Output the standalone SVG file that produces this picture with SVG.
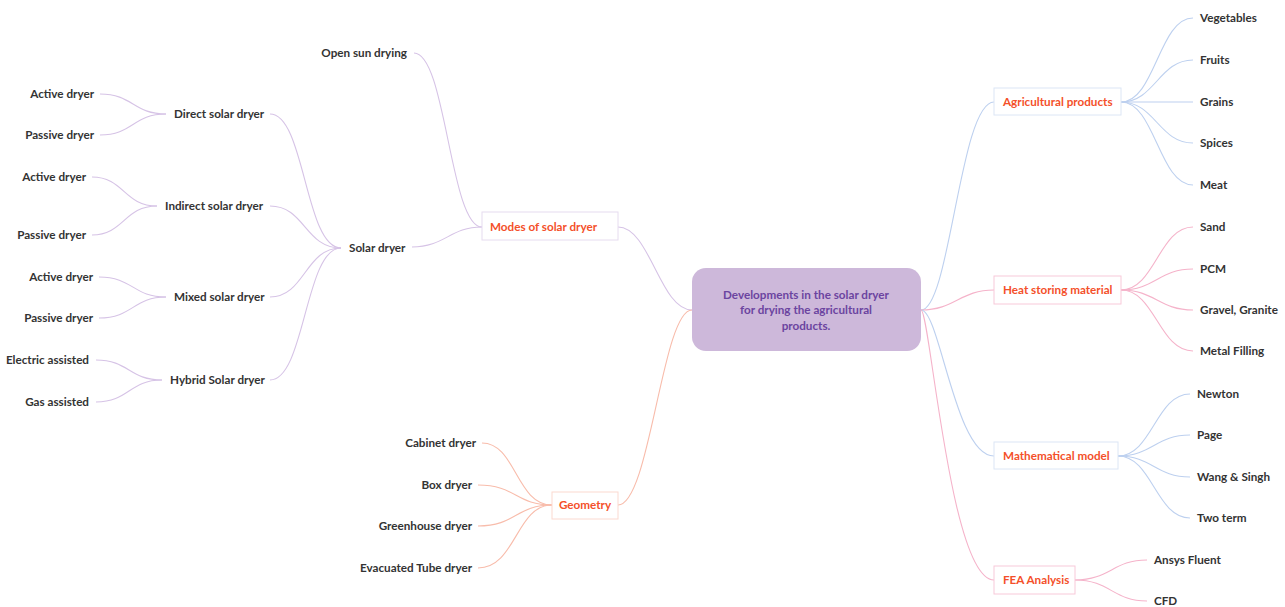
<svg xmlns="http://www.w3.org/2000/svg" width="1285" height="607" viewBox="0 0 1285 607">
<style>
text{font-family:Lato,"Open Sans","Liberation Sans",sans-serif;font-weight:700;font-size:11.7px}
.leaf{fill:#333333}
.red{fill:#f4502a}
.title{fill:#6b44a0;text-anchor:middle}
.e{text-anchor:end}
.c{stroke-width:1.1;fill:none}
.pu{stroke:#d6c3e6}
.sa{stroke:#f8bcab}
.bl{stroke:#bdd0ef}
.pk{stroke:#f5b3ca}
.box{fill:#ffffff;stroke-width:1}
</style>
<rect width="1285" height="607" fill="#ffffff"/>
<g id="connectors">
<path class="c pu" d="M692,310 C660,310 650,227 618,227"/>
<path class="c sa" d="M692,310 C662,310 650,505 618,505"/>
<path class="c bl" d="M921,310 C950,310 960,102 994,102"/>
<path class="c pk" d="M921,310 C955,310 960,290 994,290"/>
<path class="c bl" d="M921,310 C940,310 955,456 994,456"/>
<path class="c pk" d="M921,310 C930,310 950,580 994,580"/>
<path class="c pu" d="M482,227 C450,227 446,53 414,53"/>
<path class="c pu" d="M482,227 C450,227 445,247 412,247"/>
<path class="c pu" d="M341,248 C305,248 305,114 270,114"/>
<path class="c pu" d="M341,248 C305,248 305,206 270,206"/>
<path class="c pu" d="M341,248 C305,248 305,297 270,297"/>
<path class="c pu" d="M341,248 C305,248 305,380 270,380"/>
<path class="c pu" d="M166,114 C133,114 133,94 100,94"/>
<path class="c pu" d="M166,114 C133,114 133,135 100,135"/>
<path class="c pu" d="M157,206 C124,206 124,177 92,177"/>
<path class="c pu" d="M157,206 C124,206 124,235 92,235"/>
<path class="c pu" d="M166,297 C133,297 133,277 99,277"/>
<path class="c pu" d="M166,297 C133,297 133,318 99,318"/>
<path class="c pu" d="M162,380 C129,380 129,360 96,360"/>
<path class="c pu" d="M162,380 C129,380 129,402 96,402"/>
<path class="c sa" d="M552,505 C516,505 516,443 482,443"/>
<path class="c sa" d="M552,505 C516,505 516,485 478,485"/>
<path class="c sa" d="M552,505 C516,505 516,526 478,526"/>
<path class="c sa" d="M552,505 C516,505 516,568 478,568"/>
<path class="c bl" d="M1121,102 C1155,102 1159,18 1193,18"/>
<path class="c bl" d="M1121,102 C1155,102 1159,60 1193,60"/>
<path class="c bl" d="M1121,102 L1193,102"/>
<path class="c bl" d="M1121,102 C1155,102 1159,143 1193,143"/>
<path class="c bl" d="M1121,102 C1155,102 1159,185 1193,185"/>
<path class="c pk" d="M1121,290 C1155,290 1159,227 1193,227"/>
<path class="c pk" d="M1121,290 C1155,290 1159,269 1193,269"/>
<path class="c pk" d="M1121,290 C1155,290 1159,310 1193,310"/>
<path class="c pk" d="M1121,290 C1155,290 1159,351 1193,351"/>
<path class="c bl" d="M1118,456 C1152,456 1156,394 1190,394"/>
<path class="c bl" d="M1118,456 C1152,456 1156,435 1190,435"/>
<path class="c bl" d="M1118,456 C1152,456 1156,477 1190,477"/>
<path class="c bl" d="M1118,456 C1152,456 1156,518 1190,518"/>
<path class="c pk" d="M1075,580 C1110,580 1113,560 1147,560"/>
<path class="c pk" d="M1075,580 C1110,580 1113,601 1147,601"/>
</g>
<g id="center">
<rect x="692" y="268" width="229" height="83" rx="14" fill="#cdb8da"/>
<text class="title" x="806" y="299">Developments in the solar dryer</text>
<text class="title" x="806" y="314">for drying the agricultural</text>
<text class="title" x="806" y="330">products.</text>
</g>
<g id="modes">
<rect class="box" x="482" y="212" width="136" height="28" stroke="#e6dcef"/>
<text class="red" x="490" y="231">Modes of solar dryer</text>
</g>
<g id="geometry">
<rect class="box" x="552" y="492" width="66" height="27" stroke="#fbd9d0"/>
<text class="red" x="585" y="509" text-anchor="middle">Geometry</text>
</g>
<g id="agri">
<rect class="box" x="994" y="88" width="127" height="27" stroke="#dce6f5"/>
<text class="red" x="1003" y="106">Agricultural products</text>
</g>
<g id="heat">
<rect class="box" x="994" y="276" width="127" height="28" stroke="#f8c9d9"/>
<text class="red" x="1003" y="294">Heat storing material</text>
</g>
<g id="math">
<rect class="box" x="994" y="442" width="124" height="27" stroke="#dce6f5"/>
<text class="red" x="1003" y="460">Mathematical model</text>
</g>
<g id="fea">
<rect class="box" x="994" y="566" width="81" height="28" stroke="#f8c9d9"/>
<text class="red" x="1003" y="584">FEA Analysis</text>
</g>
<g id="open-sun"><text class="leaf e" x="407" y="57">Open sun drying</text></g>
<g id="solar-dryer"><text class="leaf" x="349" y="252">Solar dryer</text></g>
<g id="direct"><text class="leaf" x="174" y="118">Direct solar dryer</text></g>
<g id="indirect"><text class="leaf" x="165" y="210">Indirect solar dryer</text></g>
<g id="mixed"><text class="leaf" x="174" y="301">Mixed solar dryer</text></g>
<g id="hybrid"><text class="leaf" x="170" y="384">Hybrid Solar dryer</text></g>
<g id="d-active"><text class="leaf e" x="94" y="98">Active dryer</text></g>
<g id="d-passive"><text class="leaf e" x="94" y="139">Passive dryer</text></g>
<g id="i-active"><text class="leaf e" x="86" y="181">Active dryer</text></g>
<g id="i-passive"><text class="leaf e" x="86" y="239">Passive dryer</text></g>
<g id="m-active"><text class="leaf e" x="93" y="281">Active dryer</text></g>
<g id="m-passive"><text class="leaf e" x="93" y="322">Passive dryer</text></g>
<g id="h-electric"><text class="leaf e" x="89" y="364">Electric assisted</text></g>
<g id="h-gas"><text class="leaf e" x="89" y="406">Gas assisted</text></g>
<g id="cabinet"><text class="leaf e" x="476" y="447">Cabinet dryer</text></g>
<g id="box-dryer"><text class="leaf e" x="472" y="489">Box dryer</text></g>
<g id="greenhouse"><text class="leaf e" x="472" y="530">Greenhouse dryer</text></g>
<g id="evacuated"><text class="leaf e" x="472" y="572">Evacuated Tube dryer</text></g>
<g id="vegetables"><text class="leaf" x="1200" y="22">Vegetables</text></g>
<g id="fruits"><text class="leaf" x="1200" y="64">Fruits</text></g>
<g id="grains"><text class="leaf" x="1200" y="106">Grains</text></g>
<g id="spices"><text class="leaf" x="1200" y="147">Spices</text></g>
<g id="meat"><text class="leaf" x="1200" y="189">Meat</text></g>
<g id="sand"><text class="leaf" x="1200" y="231">Sand</text></g>
<g id="pcm"><text class="leaf" x="1200" y="273">PCM</text></g>
<g id="gravel"><text class="leaf" x="1200" y="314">Gravel, Granite</text></g>
<g id="metal"><text class="leaf" x="1200" y="355">Metal Filling</text></g>
<g id="newton"><text class="leaf" x="1197" y="398">Newton</text></g>
<g id="page"><text class="leaf" x="1197" y="439">Page</text></g>
<g id="wang"><text class="leaf" x="1197" y="481">Wang &amp; Singh</text></g>
<g id="two-term"><text class="leaf" x="1197" y="522">Two term</text></g>
<g id="ansys"><text class="leaf" x="1154" y="564">Ansys Fluent</text></g>
<g id="cfd"><text class="leaf" x="1154" y="605">CFD</text></g>
</svg>
